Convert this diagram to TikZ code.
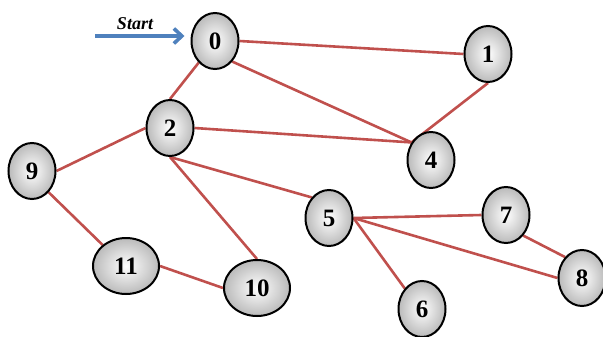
\documentclass[tikz,border=0pt]{standalone}
\usepackage{fontspec}
\setmainfont{Liberation Serif}
\usetikzlibrary{shapes.geometric,backgrounds,arrows.meta}
\definecolor{edgered}{HTML}{C0504D}
\definecolor{startblue}{HTML}{4F81BD}
\tikzset{
  vnode/.style={ellipse, draw=black, line width=2pt, inner sep=0pt,
    minimum width=47pt, minimum height=56pt,
    shading=radial, inner color=white, outer color=black!27,
    font=\fontsize{25}{25}\selectfont\bfseries},
  wide/.style={minimum width=66pt},
  edge/.style={draw=edgered, line width=2.6pt},
}
\begin{document}
\begin{tikzpicture}[x=1pt,y=-1pt]
\useasboundingbox (0,0) rectangle (603,337);
\node[vnode] (n0) at (215,41) {0};
\node[vnode] (n1) at (488,54) {1};
\node[vnode] (n2) at (170,128) {2};
\node[vnode] (n4) at (431,160) {4};
\node[vnode] (n9) at (32,171) {9};
\node[vnode] (n5) at (329,218) {5};
\node[vnode] (n7) at (506,215) {7};
\node[vnode] (n8) at (582,278) {8};
\node[vnode] (n6) at (422,309) {6};
\node[vnode,wide] (n11) at (126,266) {11};
\node[vnode,wide] (n10) at (257,288) {10};
\coordinate (startpt) at (95,36);
\node[font=\fontsize{18}{18}\selectfont\bfseries\itshape, anchor=base, inner sep=0pt] (startlbl) at (135,29.5) {Start};
\draw[startblue, line width=3.6pt, -{Straight Barb[length=8pt,width=15pt,line width=3.6pt]}] (startpt) -- ([xshift=-6pt]n0.west |- startpt);
\begin{scope}[on background layer]
\draw[edge] (n0.east) -- (n1.west);
\draw[edge] (n0.-127) -- (n2.north);
\draw[edge] (n0.-50) -- (n4.138);
\draw[edge] (n1.south) -- (n4.138);
\draw[edge] (n2.east) -- (n4.138);
\draw[edge] (n2.west) -- (n9.east);
\draw[edge] (n2.south) -- (n5.130);
\draw[edge] (n2.south) -- (n10.north);
\draw[edge] (n9.-52) -- (n11.138);
\draw[edge] (n11.east) -- (n10.west);
\draw[edge] (n5.east) -- (n7.west);
\draw[edge] (n5.east) -- (n8.west);
\draw[edge] (n5.east) -- (n6.130);
\draw[edge] (n7.-50) -- (n8.129);
\end{scope}
\end{tikzpicture}
\end{document}
